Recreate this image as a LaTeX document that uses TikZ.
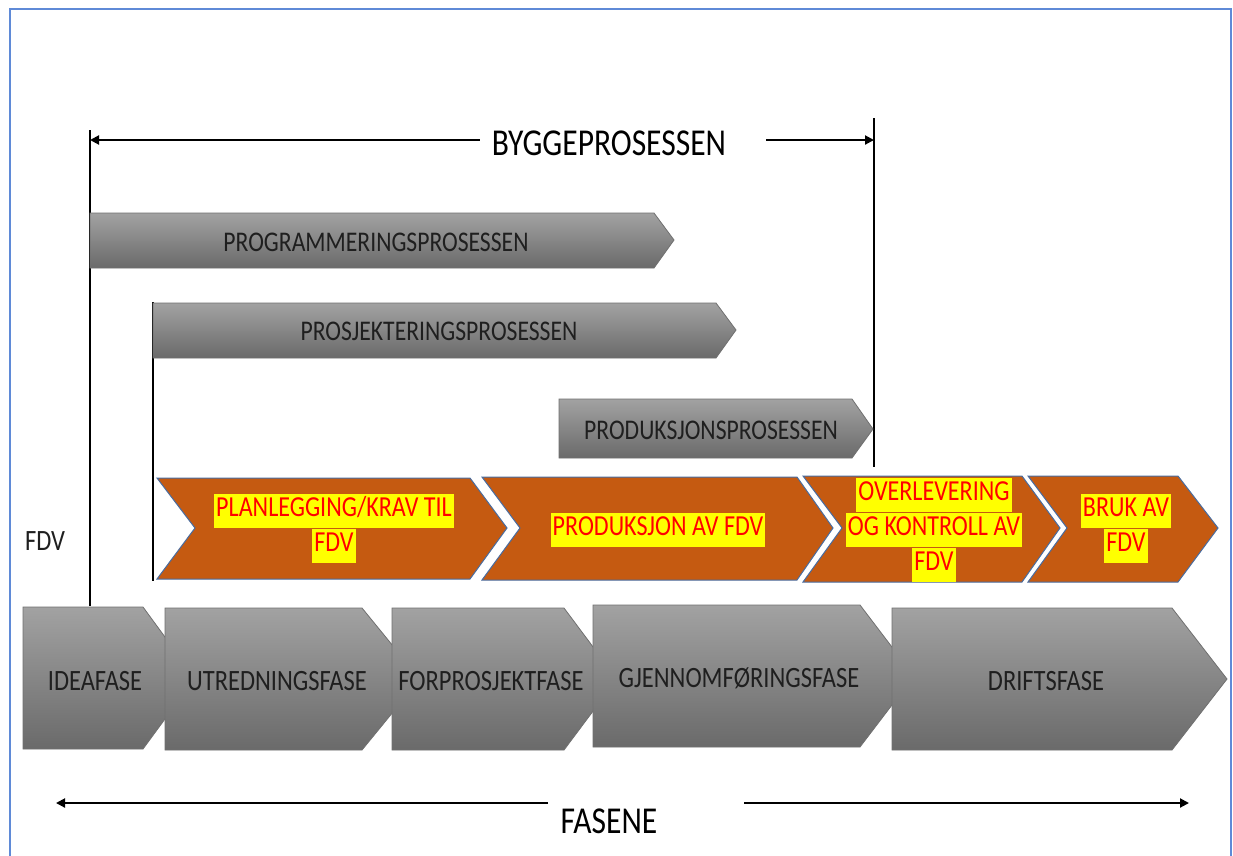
\documentclass[tikz,border=0pt]{standalone}
\usepackage{fontspec}
\setmainfont[FakeStretch=0.83]{Carlito}
\usetikzlibrary{arrows.meta}

\definecolor{frameblue}{RGB}{95,138,215}
\definecolor{greytop}{RGB}{162,162,162}
\definecolor{greybot}{RGB}{106,106,106}
\definecolor{greyedge}{RGB}{112,112,112}
\definecolor{fdvorange}{RGB}{197,90,17}
\definecolor{fdvedge}{RGB}{72,108,160}
\definecolor{hlyellow}{RGB}{255,255,0}
\definecolor{hlred}{RGB}{255,0,0}

\tikzset{
  greybar/.style={draw=greyedge, line width=0.8pt, top color=greytop, bottom color=greybot},
  fdvchev/.style={draw=fdvedge, line width=1pt, fill=fdvorange},
  bartext/.style={font=\fontsize{28.5}{33}\selectfont, text=black!88, inner sep=0pt},
  phasetext/.style={font=\fontsize{29.5}{34}\selectfont, text=black!88, inner sep=0pt},
  hl/.style={font=\fontsize{29}{33}\selectfont, text=hlred, fill=hlyellow, inner xsep=2pt, inner ysep=0pt, text height=23pt, text depth=11.5pt},
  bigtext/.style={font=\fontsize{38}{42}\selectfont, text=black, inner sep=0pt},
  guide/.style={line width=1.6pt, black},
  spanarrow/.style={line width=2pt, black, -{Triangle[length=9pt,width=9pt]}},
}

\begin{document}
\begin{tikzpicture}[x=1pt, y=-1pt]
  \useasboundingbox (0,0) rectangle (1233,855);
  \fill[white] (0,0) rectangle (1233,855);

  % outer frame
  \draw[frameblue, line width=2pt] (10,870) -- (10,9) -- (1231,9) -- (1231,870);

  % vertical guide lines
  \coordinate (gA1) at (90,130);
  \coordinate (gA2) at (90,606);
  \coordinate (gB1) at (874,118);
  \coordinate (gB2) at (874,467);
  \coordinate (gC1) at (153,302);
  \coordinate (gC2) at (153,581);
  \draw[guide] (gA1) -- (gA2);
  \draw[guide] (gB1) -- (gB2);
  \draw[guide] (gC1) -- (gC2);

  % building process span
  \node[bigtext] (bygg) at (609,143) {BYGGEPROSESSEN};
  \coordinate (byggL) at (90,140);
  \coordinate (byggR) at (874,140);
  \draw[spanarrow] ([xshift=-12pt]bygg.west |- byggL) -- (byggL);
  \draw[spanarrow] ([xshift=40pt]bygg.east |- byggR) -- (byggR);

  % process bars
  \draw[greybar] (90,213) -- (654,213) -- (674,240) -- (654,268) -- (90,268) -- cycle;
  \node[bartext] (prog) at (376,242) {PROGRAMMERINGSPROSESSEN};
  \draw[greybar] (153,303) -- (716,303) -- (736,330) -- (716,358) -- (153,358) -- cycle;
  \node[bartext] (prosj) at (439,331) {PROSJEKTERINGSPROSESSEN};
  \draw[greybar] (559,399) -- (852,399) -- (873,429) -- (852,458) -- (559,458) -- cycle;
  \node[bartext] (prod) at (711,430) {PRODUKSJONSPROSESSEN};

  % FDV chevrons
  \draw[fdvchev] (157,478) -- (470,478) -- (507,528) -- (470,579) -- (157,579) -- (195,528) -- cycle;
  \draw[fdvchev] (482,477) -- (797,477) -- (833,528) -- (797,580) -- (482,580) -- (520,528) -- cycle;
  \draw[fdvchev] (803,476) -- (1022,476) -- (1060,528) -- (1022,582) -- (803,582) -- (842,528) -- cycle;
  \draw[fdvchev] (1028,476) -- (1178,476) -- (1218,528) -- (1178,582) -- (1028,582) -- (1067,528) -- cycle;

  \node[hl] (plan1) at (334,511) {PLANLEGGING/KRAV TIL};
  \node[hl, anchor=north] (plan2) at (plan1.south) {FDV};
  \node[hl] (prodfdv) at (658,530) {PRODUKSJON AV FDV};
  \node[hl] (over1) at (934,495) {OVERLEVERING};
  \node[hl, anchor=north] (over2) at (over1.south) {OG KONTROLL AV};
  \node[hl, anchor=north] (over3) at (over2.south) {FDV};
  \node[hl] (bruk1) at (1126,511) {BRUK AV};
  \node[hl, anchor=north] (bruk2) at (bruk1.south) {FDV};

  \node[phasetext] (fdv) at (45,541) {FDV};

  % phases
  \draw[greybar] (23,607) -- (143,607) -- (195,678) -- (143,749) -- (23,749) -- cycle;
  \draw[greybar] (165,608) -- (362,608) -- (420,679) -- (362,750) -- (165,750) -- cycle;
  \draw[greybar] (392,608) -- (564,608) -- (617,679) -- (564,750) -- (392,750) -- cycle;
  \draw[greybar] (593,605) -- (860,605) -- (914,676) -- (860,747) -- (593,747) -- cycle;
  \draw[greybar] (892,608) -- (1172,608) -- (1227,679) -- (1172,750) -- (892,750) -- cycle;

  \node[phasetext] (idea) at (95,681) {IDEAFASE};
  \node[phasetext] (utred) at (277,681) {UTREDNINGSFASE};
  \node[phasetext] (forpro) at (491,681) {FORPROSJEKTFASE};
  \node[phasetext] (gjenn) at (739,678) {GJENNOMFØRINGSFASE};
  \node[phasetext] (drift) at (1046,681) {DRIFTSFASE};

  % phases span
  \node[bigtext] (fasene) at (609,821) {FASENE};
  \coordinate (fasL) at (56,803);
  \coordinate (fasR) at (1189,803);
  \draw[spanarrow] (548,803) -- (fasL);
  \draw[spanarrow] (744,803) -- (fasR);
\end{tikzpicture}
\end{document}
